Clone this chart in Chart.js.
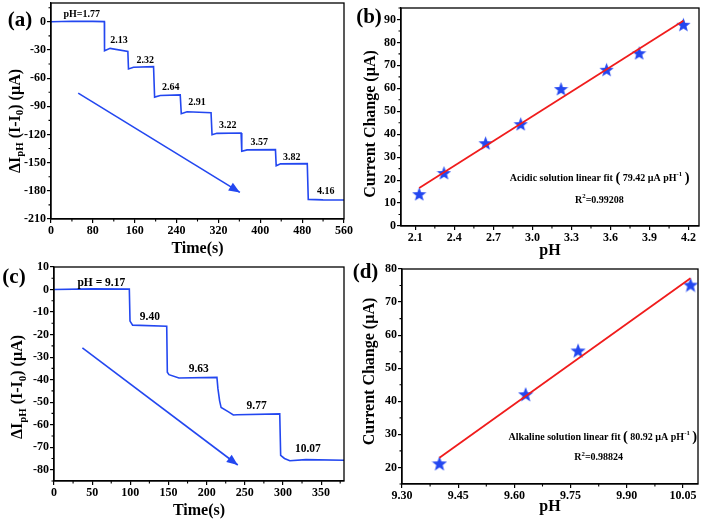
<!DOCTYPE html>
<html>
<head>
<meta charset="utf-8">
<script src="https://cdn.jsdelivr.net/npm/chart.js@4.4.1/dist/chart.umd.min.js"></script>
<style>
  body { margin: 0; background: #fff; width: 707px; height: 520px; position: relative; overflow: hidden; }
  .panel { position: absolute; width: 357px; height: 260px; }
</style>
</head>
<body>
<div class="panel" style="left:0;top:0"><canvas id="chartA"></canvas></div>
<div class="panel" style="left:350px;top:0"><canvas id="chartB"></canvas></div>
<div class="panel" style="left:0;top:260px"><canvas id="chartC"></canvas></div>
<div class="panel" style="left:350px;top:260px"><canvas id="chartD"></canvas></div>
<script>
// (a) acidic step response, current vs time
const timeA = [0, 40, 80, 102, 102.3, 113, 146.9, 148.1, 157.7, 196, 198, 208.8, 247, 249, 260, 305.9, 307.8, 317, 363.3, 364.6, 374.8, 429, 430.4, 438.7, 489.8, 491.7, 520, 560];
const currentA = [0, 0.6, 0.4, 0.2, -30.8, -28.3, -31.5, -50.2, -48.4, -47.7, -80.2, -78.5, -77.8, -97.9, -95.8, -96.9, -120.2, -118.8, -118.4, -137.9, -136.4, -136.1, -153.4, -151.3, -151, -189.1, -189.6, -189.8];
const stepTextA = ['pH=1.77', '2.13', '2.32', '2.64', '2.91', '3.22', '3.57', '3.82', '4.16'];
const stepTextXA = [58.7, 130, 180, 229, 279, 338, 398, 460, 525];
const stepTextYA = [8, -19.4, -41, -70, -85.5, -110, -128, -144, -181];
const arrowXA = [52, 361];
const arrowYA = [-76, -181.7];
const timeTicksA = [0, 80, 160, 240, 320, 400, 480, 560];
const currentTicksA = [-210, -180, -150, -120, -90, -60, -30, 0];

// (b) acidic calibration
const phB = [2.13, 2.32, 2.64, 2.91, 3.22, 3.57, 3.82, 4.16];
const changeB = [14.1, 23.3, 36.3, 44.6, 59.9, 68.3, 75.5, 87.9];
const fitXB = [2.13, 4.16];
const fitYB = [16.6, 89.4];
const phTicksB = [2.1, 2.4, 2.7, 3.0, 3.3, 3.6, 3.9, 4.2];
const changeTicksB = [0, 10, 20, 30, 40, 50, 60, 70, 80, 90];

// (c) alkaline step response
const timeC = [0, 50, 98.7, 99.6, 103, 147.7, 148.5, 150.7, 163.7, 213.5, 214.8, 217, 219, 228.7, 235, 240, 295.8, 297, 302, 309, 330, 380];
const currentC = [0, 0.3, 0.2, -14, -15.8, -16.3, -36.7, -37.8, -39.3, -39, -44, -49.4, -52.4, -54.3, -55.7, -55.6, -55.2, -73.6, -75, -76, -75.5, -75.8];
const stepTextC = ['pH = 9.17', '9.40', '9.63', '9.77', '10.07'];
const stepTextXC = [62, 125.6, 189.7, 265.5, 332.6];
const stepTextYC = [3.1, -12.1, -35.2, -51.9, -70.6];
const arrowXC = [37.2, 240.8];
const arrowYC = [-25.9, -77.9];
const timeTicksC = [0, 50, 100, 150, 200, 250, 300, 350];
const currentTicksC = [-80, -70, -60, -50, -40, -30, -20, -10, 0, 10];

// (d) alkaline calibration
const phD = [9.40, 9.63, 9.77, 10.07];
const changeD = [21.3, 42.2, 55.4, 75.3];
const fitXD = [9.40, 10.07];
const fitYD = [22.95, 77.2];
const phTicksD = [9.30, 9.45, 9.60, 9.75, 9.90, 10.05];
const changeTicksD = [20, 30, 40, 50, 60, 70, 80];

const BLUE = '#2347f0';
const RED = '#f01c1c';
const SERIF = '"Liberation Serif", "Times New Roman", serif';

function pts(xs, ys) {
  return xs.map((x, i) => ({ x: x, y: ys[i] }));
}

function makeStar(size, color) {
  const c = document.createElement('canvas');
  c.width = c.height = size;
  const g = c.getContext('2d');
  const r = size / 2, ri = r * 0.42;
  g.beginPath();
  for (let i = 0; i < 10; i++) {
    const ang = -Math.PI / 2 + i * Math.PI / 5;
    const rr = i % 2 ? ri : r;
    g.lineTo(r + rr * Math.cos(ang), r + 1 + rr * Math.sin(ang));
  }
  g.closePath();
  g.fillStyle = color;
  g.fill();
  return c;
}

// tiny markup: ^{..} superscript, _{..} subscript, #{..} bigger glyphs
function parseRich(str) {
  const out = [];
  const re = /([_^#])\{([^}]*)\}/g;
  let last = 0, m;
  while ((m = re.exec(str))) {
    if (m.index > last) out.push({ t: str.slice(last, m.index), k: 0 });
    out.push({ t: m[2], k: m[1] === '^' ? 1 : (m[1] === '_' ? -1 : 2) });
    last = re.lastIndex;
  }
  if (last < str.length) out.push({ t: str.slice(last), k: 0 });
  return out;
}

function richText(ctx, str, cx, cy, size, rot) {
  const segs = parseRich(str);
  const fontFor = k => 'bold ' + (k === 2 ? size * 1.45 : (k ? size * 0.68 : size)) + 'px ' + SERIF;
  let w = 0;
  segs.forEach(s => { ctx.font = fontFor(s.k); s.w = ctx.measureText(s.t).width; w += s.w; });
  ctx.save();
  ctx.translate(cx, cy);
  ctx.rotate(rot || 0);
  ctx.fillStyle = '#000';
  ctx.textBaseline = 'middle';
  ctx.textAlign = 'left';
  let px = -w / 2;
  segs.forEach(s => {
    ctx.font = fontFor(s.k);
    const dy = s.k === 1 ? -size * 0.38 : (s.k === -1 ? size * 0.32 : 0);
    ctx.fillText(s.t, px, dy);
    px += s.w;
  });
  ctx.restore();
}

function minorValues(scale) {
  const major = scale.ticks.map(t => t.value);
  const out = [];
  for (let i = 0; i < major.length - 1; i++) out.push((major[i] + major[i + 1]) / 2);
  const step = major[1] - major[0];
  const lo = major[0] - step / 2, hi = major[major.length - 1] + step / 2;
  if (lo >= scale.min - 1e-9) out.push(lo);
  if (hi <= scale.max + 1e-9) out.push(hi);
  return out;
}

// frame box, minor ticks, arrow heads and in-plot texts
const framePlugin = {
  id: 'frame',
  afterDatasetsDraw(chart) {
    const ctx = chart.ctx;
    chart.data.datasets.forEach((ds, i) => {
      if (!ds.arrow) return;
      const el = chart.getDatasetMeta(i).data;
      const p1 = el[el.length - 2], p2 = el[el.length - 1];
      const ang = Math.atan2(p2.y - p1.y, p2.x - p1.x);
      ctx.save();
      ctx.translate(p2.x, p2.y);
      ctx.rotate(ang);
      ctx.beginPath();
      ctx.moveTo(0, 0);
      ctx.lineTo(-11, -4.5);
      ctx.lineTo(-11, 4.5);
      ctx.closePath();
      ctx.fillStyle = ds.borderColor;
      ctx.fill();
      ctx.restore();
    });
  },
  afterDraw(chart, args, opts) {
    const { ctx, chartArea: a, scales: { x, y } } = chart;
    ctx.save();
    ctx.strokeStyle = '#000';
    ctx.lineWidth = 1.3;
    ctx.strokeRect(a.left, a.top, a.right - a.left, a.bottom - a.top);
    ctx.lineWidth = 1.1;
    ctx.beginPath();
    minorValues(x).forEach(v => {
      const px = x.getPixelForValue(v);
      ctx.moveTo(px, a.bottom);
      ctx.lineTo(px, a.bottom + 2.5);
    });
    minorValues(y).forEach(v => {
      const py = y.getPixelForValue(v);
      ctx.moveTo(a.left, py);
      ctx.lineTo(a.left - 2.5, py);
    });
    ctx.stroke();
    ctx.restore();

    (opts.notes || []).forEach(n => {
      richText(ctx, n.text, x.getPixelForValue(n.x), y.getPixelForValue(n.y), n.size, 0);
    });
    richText(ctx, opts.yTitle, opts.yTitleX, (a.top + a.bottom) / 2 + opts.yTitleDy, 16, -Math.PI / 2);
    ctx.save();
    ctx.font = 'bold 21px ' + SERIF;
    ctx.fillStyle = '#000';
    ctx.textAlign = 'center';
    ctx.textBaseline = 'middle';
    ctx.fillText(opts.tag, opts.tagX, opts.tagY);
    ctx.restore();
  }
};

function axis(min, max, tickValues, digits, size, title, titlePad) {
  const horizontal = title !== null;
  const conf = {
    type: 'linear',
    min: min,
    max: max,
    afterBuildTicks: s => { s.ticks = tickValues.map(v => ({ value: v })); },
    afterFit: s => {
      if (horizontal) { s.height = size; s.paddingLeft = 0; s.paddingRight = 0; }
      else { s.width = size; s.paddingTop = 0; s.paddingBottom = 0; }
    },
    ticks: {
      color: '#000',
      padding: 1,
      autoSkip: false,
      maxRotation: 0,
      font: { family: SERIF, weight: 'bold', size: 12 },
      callback: v => Number(v).toFixed(digits)
    },
    grid: { drawOnChartArea: false, drawTicks: true, tickLength: 4, color: '#000', lineWidth: 1.2 },
    border: { display: true, color: '#000', width: 1.3 }
  };
  if (horizontal) {
    conf.title = { display: true, text: title, color: '#000', padding: { top: 0, bottom: titlePad },
      font: { family: SERIF, weight: 'bold', size: 16 } };
  }
  return conf;
}

function options(pad, xAxis, yAxis, frame) {
  return {
    responsive: true,
    maintainAspectRatio: false,
    animation: false,
    layout: { padding: pad },
    plugins: { legend: { display: false }, tooltip: { enabled: false }, frame: frame },
    scales: { x: xAxis, y: yAxis }
  };
}

function stepNotes(texts, xs, ys, size) {
  return texts.map((t, i) => ({ text: t, x: xs[i], y: ys[i], size: size }));
}

// (a)
new Chart(document.getElementById('chartA'), {
  type: 'scatter',
  data: {
    datasets: [
      { data: pts(timeA, currentA), showLine: true, borderColor: BLUE, borderWidth: 1.6, pointRadius: 0, tension: 0 },
      { data: pts(arrowXA, arrowYA), showLine: true, borderColor: BLUE, borderWidth: 1.6, pointRadius: 0, arrow: true }
    ]
  },
  options: options({ left: 0, top: 3, right: 13, bottom: 0 },
    axis(0, 560, timeTicksA, 0, 41, 'Time(s)', 1.4),
    axis(-210, 20, currentTicksA, 0, 51, null),
    { notes: stepNotes(stepTextA, stepTextXA, stepTextYA, 10), yTitle: '\u0394I_{pH} (I-I_{0}) (\u00b5A)',
      yTitleX: 15.5, yTitleDy: 10, tag: '(a)', tagX: 20, tagY: 21 }),
  plugins: [framePlugin]
});

// (b)
new Chart(document.getElementById('chartB'), {
  type: 'scatter',
  data: {
    datasets: [
      { data: pts(fitXB, fitYB), showLine: true, borderColor: RED, borderWidth: 1.8, pointRadius: 0 },
      { data: pts(phB, changeB), showLine: false, pointStyle: makeStar(15, BLUE), pointRadius: 7 }
    ]
  },
  options: options({ left: 0, top: 2, right: 5, bottom: 0 },
    axis(1.99, 4.28, phTicksB, 1, 34, 'pH', 0),
    axis(0, 95, changeTicksB, 0, 51, null),
    { notes: [
        { text: 'Acidic solution linear fit #{(} 79.42 \u00b5A pH^{-1} #{)}', x: 3.517, y: 20.7, size: 10 },
        { text: 'R^{2}=0.99208', x: 3.515, y: 11.2, size: 10 }
      ],
      yTitle: 'Current Change (\u00b5A)', yTitleX: 21, yTitleDy: 7, tag: '(b)', tagX: 19, tagY: 17.5 }),
  plugins: [framePlugin]
});

// (c)
new Chart(document.getElementById('chartC'), {
  type: 'scatter',
  data: {
    datasets: [
      { data: pts(timeC, currentC), showLine: true, borderColor: BLUE, borderWidth: 1.6, pointRadius: 0, tension: 0 },
      { data: pts(arrowXC, arrowYC), showLine: true, borderColor: BLUE, borderWidth: 1.6, pointRadius: 0, arrow: true }
    ]
  },
  options: options({ left: 0, top: 7, right: 13, bottom: 0 },
    axis(0, 380, timeTicksC, 0, 39, 'Time(s)', 0),
    axis(-85, 10, currentTicksC, 0, 54, null),
    { notes: stepNotes(stepTextC, stepTextXC, stepTextYC, 11.5), yTitle: '\u0394I_{pH} (I-I_{0}) (\u00b5A)',
      yTitleX: 18, yTitleDy: 13, tag: '(c)', tagX: 14, tagY: 17.5 }),
  plugins: [framePlugin]
});

// (d)
new Chart(document.getElementById('chartD'), {
  type: 'scatter',
  data: {
    datasets: [
      { data: pts(fitXD, fitYD), showLine: true, borderColor: RED, borderWidth: 1.8, pointRadius: 0 },
      { data: pts(phD, changeD), showLine: false, pointStyle: makeStar(16, BLUE), pointRadius: 8 }
    ]
  },
  options: options({ left: 0, top: 2, right: 5, bottom: 0 },
    axis(9.30, 10.09, phTicksD, 2, 36, 'pH', 3.4),
    axis(15, 80, changeTicksD, 0, 52, null),
    { notes: [
        { text: 'Alkaline solution linear fit #{(} 80.92 \u00b5A pH^{-1} #{)}', x: 9.836, y: 29.1, size: 10 },
        { text: 'R^{2}=0.98824', x: 9.825, y: 22.9, size: 10 }
      ],
      yTitle: 'Current Change (\u00b5A)', yTitleX: 20, yTitleDy: -5, tag: '(d)', tagX: 15.5, tagY: 13 }),
  plugins: [framePlugin]
});
</script>
</body>
</html>
